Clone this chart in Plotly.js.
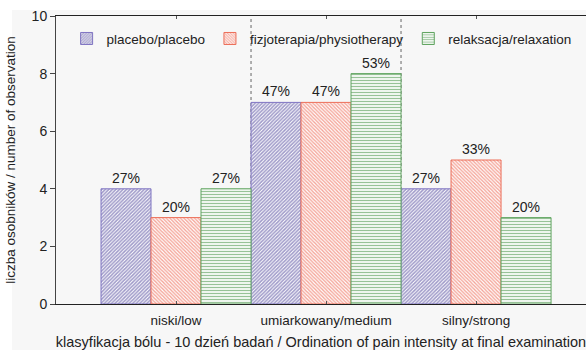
<!DOCTYPE html>
<html><head><meta charset="utf-8">
<script src="https://cdn.plot.ly/plotly-3.0.1.min.js"></script>
<style>html,body{margin:0;padding:0;background:#fff;}#chart{width:586px;height:350px;}</style>
</head><body><div id="chart"></div>
<script>
const categories = ['niski/low', 'umiarkowany/medium', 'silny/strong'];
const seriesNames = ['placebo/placebo', 'fizjoterapia/physiotherapy', 'relaksacja/relaxation'];
const placebo = [4, 7, 4];
const fizjo = [3, 7, 5];
const relax = [4, 8, 3];
const placeboPct = ['27%', '47%', '27%'];
const fizjoPct = ['20%', '47%', '33%'];
const relaxPct = ['27%', '53%', '20%'];

const font = 'Liberation Sans, Arial, sans-serif';
function tr(name, y, txt, shape, fg, line, size, sol) {
  return {
    type: 'bar', name: name, x: categories, y: y, text: txt,
    textposition: 'outside', cliponaxis: false,
    textfont: {family: font, size: 14, color: '#222'},
    marker: {color: '#ffffff', line: {color: line, width: 1},
      pattern: {shape: shape, fgcolor: fg, bgcolor: '#ffffff', size: size, solidity: sol, fillmode: 'overlay'}},
    hoverinfo: 'none'
  };
}
const data = [
  tr(seriesNames[0], placebo, placeboPct, '/', '#3e3392', '#7f74c2', 2.5, 0.6),
  tr(seriesNames[1], fizjo, fizjoPct, '\\', '#ea4a32', '#ec6e58', 2.5, 0.55),
  tr(seriesNames[2], relax, relaxPct, '-', '#2f862f', '#5fa45f', 3, 0.45)
];
const layout = {
  width: 586, height: 350,
  margin: {l: 56, r: 0, t: 16, b: 46},
  paper_bgcolor: '#ffffff', plot_bgcolor: 'rgba(0,0,0,0)',
  font: {family: font, size: 13.5, color: '#222'},
  barmode: 'group', bargap: 0, bargroupgap: 0,
  showlegend: true,
  legend: {orientation: 'h', x: 0.02, y: 0.975, xanchor: 'left', yanchor: 'top',
    bgcolor: 'rgba(0,0,0,0)', font: {family: font, size: 13.5, color: '#222'}},
  xaxis: {
    type: 'category', range: [-0.8, 2.733],
    showline: true, linecolor: '#222', linewidth: 1, mirror: 'allticks',
    ticks: 'inside', ticklen: 3, tickcolor: '#555',
    showgrid: false, zeroline: false,
    ticklabelstandoff: 4,
    tickfont: {family: font, size: 13.5, color: '#222'},
    title: {text: 'klasyfikacja bólu - 10 dzień badań / Ordination of pain intensity at final examination',
      font: {family: font, size: 14.5, color: '#222'}, standoff: 19}
  },
  yaxis: {
    range: [0, 10], dtick: 2,
    showline: true, linecolor: '#444', linewidth: 1,
    ticks: 'outside', ticklen: 5, tickcolor: '#444',
    showgrid: false, zeroline: false,
    tickfont: {family: font, size: 14, color: '#222'},
    title: {text: 'liczba osobników / number of observation',
      font: {family: font, size: 13.5, color: '#222'}, standoff: 12}
  },
  shapes: [
    {type: 'rect', xref: 'paper', yref: 'paper', x0: -0.083, x1: 1.01, y0: -0.2, y1: 1.0208,
      fillcolor: '#f7f7f7', line: {width: 0}, layer: 'below'},
    {type: 'line', xref: 'x', yref: 'y', x0: 0.5, x1: 0.5, y0: 0, y1: 10,
      line: {color: '#666', width: 1, dash: 'dot'}, layer: 'below'},
    {type: 'line', xref: 'x', yref: 'y', x0: 1.5, x1: 1.5, y0: 0, y1: 10,
      line: {color: '#666', width: 1, dash: 'dot'}, layer: 'below'}
  ]
};
Plotly.newPlot('chart', data, layout, {displayModeBar: false, staticPlot: true});
</script></body></html>
